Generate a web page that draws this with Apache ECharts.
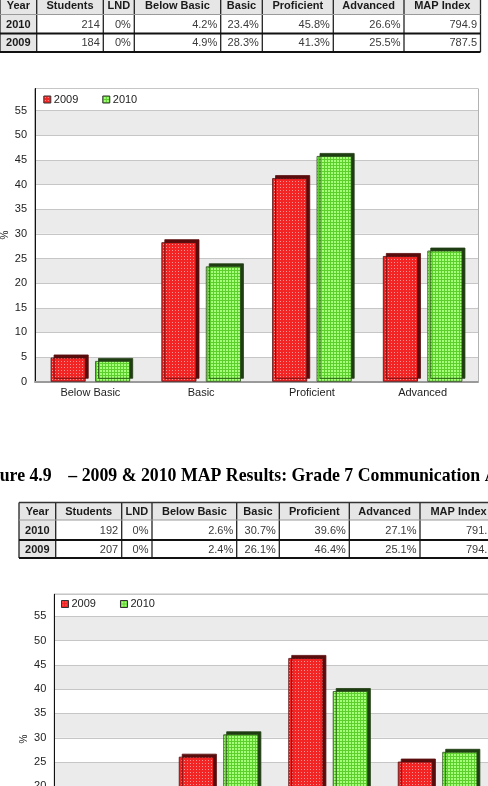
<!DOCTYPE html>
<html>
<head>
<meta charset="utf-8">
<script src="https://cdn.jsdelivr.net/npm/echarts@6/dist/echarts.min.js"></script>
<style>
  html, body { margin: 0; padding: 0; background: #fff; }
  #main { width: 488px; height: 786px; }
</style>
</head>
<body>
<div id="main"></div>
<script>
// data
let categories = ['Below Basic', 'Basic', 'Proficient', 'Advanced']
let years = ['2009', '2010']
let grade6_2009 = [4.9, 28.3, 41.3, 25.5]
let grade6_2010 = [4.2, 23.4, 45.8, 26.6]
let grade7_2009 = [2.4, 26.1, 46.4, 25.1]
let grade7_2010 = [2.6, 30.7, 39.6, 27.1]

let tableHead = ['Year', 'Students', 'LND', 'Below Basic', 'Basic', 'Proficient', 'Advanced', 'MAP Index']
let table1Rows = [
  ['2010', '214', '0%', '4.2%', '23.4%', '45.8%', '26.6%', '794.9'],
  ['2009', '184', '0%', '4.9%', '28.3%', '41.3%', '25.5%', '787.5']
]
let table2Rows = [
  ['2010', '192', '0%', '2.6%', '30.7%', '39.6%', '27.1%', '791.5'],
  ['2009', '207', '0%', '2.4%', '26.1%', '46.4%', '25.1%', '794.1']
]
let captionNum = 'Figure 4.9'
let captionText = '– 2009 & 2010 MAP Results: Grade 7 Communication Arts'

// dotted fills like the old chart images
function makePattern(base, dot, size, dotSize) {
  let c = document.createElement('canvas')
  c.width = size
  c.height = size
  let ctx = c.getContext('2d')
  ctx.fillStyle = base
  ctx.fillRect(0, 0, size, size)
  ctx.fillStyle = dot
  ctx.fillRect(1, 1, dotSize, dotSize)
  return {image: c, repeat: 'repeat'}
}
let redFill = makePattern('#f22424', '#ff9494', 3, 1)
let greenFill = makePattern('#5ccf2c', '#a6ff7a', 3, 2)

// table layout (pixel positions of the table grid)
let table1Cols = [0, 36.7, 103.3, 134.3, 220.7, 262.3, 333.3, 404, 480.5]
let table1RowsY = [-4, 14.5, 33.5, 52]
let table2Cols = [19, 55.7, 121.7, 152, 236.7, 279.3, 349.3, 420, 497]
let table2RowsY = [502.5, 520, 540, 558]

function buildTable(cols, ys, rows) {
  let els = []
  let top = ys[0], bottom = ys[ys.length - 1]
  // grey header row and year column
  els.push({type: 'rect', shape: {x: cols[0], y: ys[0], width: cols[cols.length - 1] - cols[0], height: ys[1] - ys[0]},
    style: {fill: '#e6e6e6'}, z: 1})
  els.push({type: 'rect', shape: {x: cols[0], y: ys[1], width: cols[1] - cols[0], height: bottom - ys[1]},
    style: {fill: '#e6e6e6'}, z: 1})
  // header text
  tableHead.forEach(function (h, i) {
    els.push({type: 'text', z: 3, style: {
      text: h, x: (cols[i] + cols[i + 1]) / 2, y: (ys[0] + ys[1]) / 2 + 1,
      align: 'center', verticalAlign: 'middle',
      font: 'bold 11px "Liberation Sans", Arial, sans-serif', fill: '#1a1a1a'
    }})
  })
  rows.forEach(function (r, ri) {
    let cy = (ys[ri + 1] + ys[ri + 2]) / 2 + 0.5
    r.forEach(function (v, i) {
      if (i === 0) {
        els.push({type: 'text', z: 3, style: {
          text: v, x: (cols[0] + cols[1]) / 2, y: cy, align: 'center', verticalAlign: 'middle',
          font: 'bold 11px "Liberation Sans", Arial, sans-serif', fill: '#1a1a1a'
        }})
      } else {
        els.push({type: 'text', z: 3, style: {
          text: v, x: cols[i + 1] - 3.5, y: cy, align: 'right', verticalAlign: 'middle',
          font: '11px "Liberation Sans", Arial, sans-serif', fill: '#3a3a3a'
        }})
      }
    })
  })
  // vertical borders
  cols.forEach(function (x) {
    els.push({type: 'line', z: 2, shape: {x1: x, y1: top, x2: x, y2: bottom},
      style: {stroke: '#222', lineWidth: 1.3}})
  })
  // horizontal borders
  els.push({type: 'line', z: 2, shape: {x1: cols[0], y1: top, x2: cols[cols.length - 1], y2: top},
    style: {stroke: '#333', lineWidth: 1.3}})
  els.push({type: 'line', z: 2, shape: {x1: cols[0], y1: ys[1], x2: cols[cols.length - 1], y2: ys[1]},
    style: {stroke: '#9a9a9a', lineWidth: 1}})
  for (let k = 2; k < ys.length; k++) {
    els.push({type: 'line', z: 2, shape: {x1: cols[0], y1: ys[k], x2: cols[cols.length - 1], y2: ys[k]},
      style: {stroke: '#111', lineWidth: 2}})
  }
  return els
}

let graphics = []
  .concat(buildTable(table1Cols, table1RowsY, table1Rows))
  .concat(buildTable(table2Cols, table2RowsY, table2Rows))
graphics.push({type: 'text', z: 3, style: {
  text: captionNum, x: 51.7, y: 476.5, align: 'right', verticalAlign: 'middle',
  font: 'bold 17.8px "Liberation Serif", "Times New Roman", serif', fill: '#000'
}})
graphics.push({type: 'text', z: 3, style: {
  text: captionText, x: 68.3, y: 476.5, align: 'left', verticalAlign: 'middle',
  font: 'bold 17.8px "Liberation Serif", "Times New Roman", serif', fill: '#000'
}})

function xAxisFor(idx) {
  return {
    type: 'category',
    gridIndex: idx,
    data: categories,
    axisTick: {alignWithLabel: true, length: 4, lineStyle: {color: '#222'}},
    axisLine: {lineStyle: {color: '#9a9a9a', width: 2}},
    axisLabel: {fontSize: 11, color: '#222', margin: 6, fontFamily: 'Liberation Sans'}
  }
}

function yAxisFor(idx) {
  return {
    type: 'value',
    gridIndex: idx,
    min: 0,
    max: 59.5,
    interval: 5,
    name: '%',
    nameLocation: 'middle',
    nameGap: 25,
    nameMoveOverlap: false,
    nameTextStyle: {fontSize: 10, color: '#222', fontFamily: 'Liberation Sans'},
    axisLine: {show: true, lineStyle: {color: '#111'}},
    axisTick: {length: 5, lineStyle: {color: '#222'}},
    axisLabel: {
      fontSize: 11, color: '#222', margin: 8, fontFamily: 'Liberation Sans',
      formatter: function (v) { return v % 5 === 0 ? v : '' }
    },
    splitLine: {lineStyle: {color: '#c6c6c6'}},
    splitArea: {show: true, areaStyle: {color: ['#ebebeb', '#ffffff']}}
  }
}

function barSeries(name, data, idx, fill, side, edge) {
  return {
    name: name,
    type: 'bar',
    xAxisIndex: idx,
    yAxisIndex: idx,
    data: data,
    barWidth: 35,
    barGap: '27%',
    animation: false,
    itemStyle: {
      color: fill,
      borderColor: edge,
      borderWidth: 0.8,
      shadowColor: side,
      shadowBlur: 0,
      shadowOffsetX: 3,
      shadowOffsetY: -3
    }
  }
}

function legendFor(left, top) {
  return {
    left: left,
    top: top,
    padding: 0,
    data: years,
    icon: 'rect',
    itemWidth: 7,
    itemHeight: 7,
    itemGap: 24,
    selectedMode: false,
    itemStyle: {borderColor: '#333', borderWidth: 1},
    textStyle: {fontSize: 11, color: '#222', fontFamily: 'Liberation Sans', padding: [0, 0, 0, -2]}
  }
}

let chart = echarts.init(document.getElementById('main'))
let option = {
  backgroundColor: '#fff',
  animation: false,
  legend: [legendFor(43.3, 94), legendFor(61, 598.5)],
  grid: [
    {left: 35, top: 88.5, width: 443, height: 293.2, show: true, borderColor: '#666', borderWidth: 1,
      containLabel: false, outerBoundsMode: 'none'},
    {left: 54.3, top: 594.3, width: 438, height: 289.4, show: true, borderColor: '#666', borderWidth: 1,
      containLabel: false, outerBoundsMode: 'none'}
  ],
  xAxis: [xAxisFor(0), xAxisFor(1)],
  yAxis: [yAxisFor(0), yAxisFor(1)],
  series: [
    barSeries('2009', grade6_2009, 0, redFill, '#5a0c0c', '#4a1010'),
    barSeries('2010', grade6_2010, 0, greenFill, '#1f3d12', '#2c4d1c'),
    barSeries('2009', grade7_2009, 1, redFill, '#5a0c0c', '#4a1010'),
    barSeries('2010', grade7_2010, 1, greenFill, '#1f3d12', '#2c4d1c')
  ],
  graphic: graphics
}
chart.setOption(option)
</script>
</body>
</html>
